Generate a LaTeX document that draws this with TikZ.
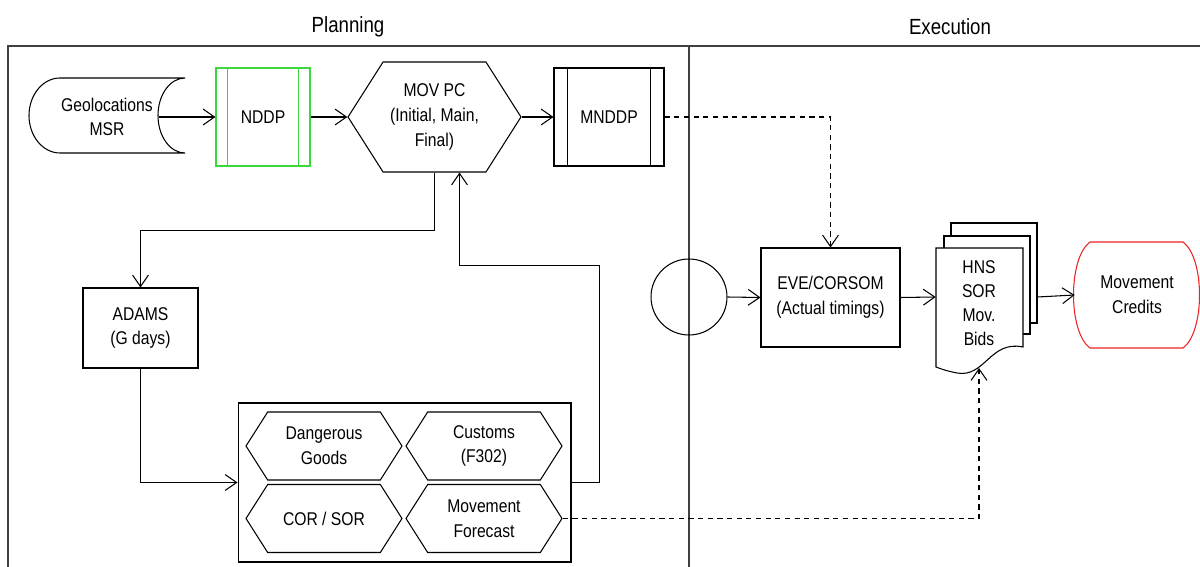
\documentclass[tikz,border=0pt]{standalone}
\usepackage{fontspec}
\setmainfont{Liberation Sans}[FakeStretch=0.85]
\definecolor{ndgreen}{RGB}{60,215,60}
\definecolor{mcred}{RGB}{235,35,35}
\usetikzlibrary{arrows.meta,positioning,shapes.geometric,shapes.symbols,calc}

\begin{document}
\begin{tikzpicture}[
    x=0.02cm, y=-0.02cm,
    every node/.style={font=\fontsize{10.5}{14}\selectfont, align=center},
    procbox/.style={rectangle, draw, line width=0.6pt, inner sep=2pt},
    hexa/.style={signal, signal to=east and west, signal pointer angle=115,
                 draw, line width=0.6pt, inner sep=1pt},
    link/.style={line width=0.6pt, -{Straight Barb[length=6.5pt,width=9pt]}},
    dlink/.style={link, dash pattern=on 3pt off 2.5pt},
    frame/.style={line width=0.9pt, black!75},
    lane/.style={font=\fontsize{12.5}{15}\selectfont}
  ]
    \useasboundingbox (0,0) rectangle (1200,567);

    % Swimlanes
    \node[lane] (plan) at (348,27) {Planning};
    \node[lane] (exec) at (950,27) {Execution};
    \draw[frame] (8,567) -- (8,46) -- (1200,46);
    \draw[frame] (689,46) -- (689,567);

    % Stored data
    \draw[line width=0.6pt] (185,78) -- (60,78) arc[start angle=270, end angle=90, x radius=31, y radius=37.5]
      -- (185,153) arc[start angle=90, end angle=270, x radius=27, y radius=37.5];
    \node[minimum width=2.04cm] (geo) at (107,117) {Geolocations\\MSR};

    \node[procbox, draw=ndgreen, minimum width=1.88cm, minimum height=1.96cm] (nddp) at (263,117) {NDDP};
    \draw[ndgreen, line width=0.6pt] ([xshift=0.24cm]nddp.north west) -- ([xshift=0.24cm]nddp.south west);
    \draw[ndgreen, line width=0.6pt] ([xshift=-0.24cm]nddp.north east) -- ([xshift=-0.24cm]nddp.south east);

    \node[hexa, minimum width=3.46cm, minimum height=2.2cm] (movpc) at (434.5,117) {MOV PC\\(Initial, Main,\\Final)};

    \node[procbox, minimum width=2.2cm, minimum height=1.96cm] (mnddp) at (609,117) {MNDDP};
    \draw[line width=0.6pt] ([xshift=0.28cm]mnddp.north west) -- ([xshift=0.28cm]mnddp.south west);
    \draw[line width=0.6pt] ([xshift=-0.28cm]mnddp.north east) -- ([xshift=-0.28cm]mnddp.south east);

    \node[procbox, minimum width=2.3cm, minimum height=1.6cm] (adams) at (140.5,328) {ADAMS\\(G days)};

    % Checks group
    \node[procbox, minimum width=6.66cm, minimum height=3.18cm] (group) at (404.5,482.5) {};
    \node[hexa, minimum width=3.12cm, minimum height=1.36cm] (dg) at (324,446) {Dangerous\\Goods};
    \node[hexa, minimum width=3.12cm, minimum height=1.36cm] (cust) at (484,446) {Customs\\(F302)};
    \node[hexa, minimum width=3.12cm, minimum height=1.36cm] (cor) at (324,518.5) {COR / SOR};
    \node[hexa, minimum width=3.12cm, minimum height=1.36cm] (mf) at (484,518.5) {Movement\\Forecast};

    % Execution side
    \node[circle, draw, line width=0.6pt, minimum size=1.52cm] (start) at (689,297) {};
    \node[procbox, minimum width=2.78cm, minimum height=1.98cm] (eve) at (830.5,297.5) {EVE/CORSOM\\(Actual timings)};

    \draw[line width=0.6pt, fill=white] (951,223) rectangle (1037,323);
    \draw[line width=0.6pt, fill=white] (944,236) rectangle (1030,334);
    \draw[line width=0.6pt, fill=white] (936,248) -- (1023,248) -- (1023,347)
      .. controls (990,340) and (985,378) .. (957,373) .. controls (947,371) and (941,369) .. (936,367) -- cycle;
    \node[minimum width=2.02cm, minimum height=2.96cm, inner sep=0pt] (docs) at (986.5,297) {};
    \node[font=\fontsize{10.5}{13.6}\selectfont] (hns) at (979,303) {HNS\\SOR\\Mov.\\Bids};
    \coordinate (docbot) at (979,368);

    % Terminal
    \node[minimum width=2.48cm, minimum height=2.12cm, inner sep=0pt] (credits) at (1137,295) {Movement\\Credits};
    \draw[mcred, line width=0.6pt] (1090,242) -- (1183,242) .. controls (1205,258) and (1205,332) .. (1183,348)
      -- (1090,348) .. controls (1068,332) and (1068,258) .. cycle;

    % Connectors
    \draw[link] (geo.east) -- (nddp.west);
    \draw[link] (nddp.east) -- (movpc.west);
    \draw[link] (movpc.east) -- (mnddp.west);
    \draw[dlink] (mnddp.east) -| (eve.north);
    \draw[link] (movpc.south) -- ++(0,58) -| (adams.north);
    \draw[link] (adams.south) |- (group.west);
    \draw[link] (group.east) -| ++(28,-217) -| ($(movpc.south)+(25,0)$);
    \draw[link] (start.east) -- (eve.west);
    \draw[link] (eve.east) -- (docs.west);
    \draw[link] (docs.east) -- (credits.west);
    \draw[dlink] (mf.east) -| (docbot);
\end{tikzpicture}
\end{document}
